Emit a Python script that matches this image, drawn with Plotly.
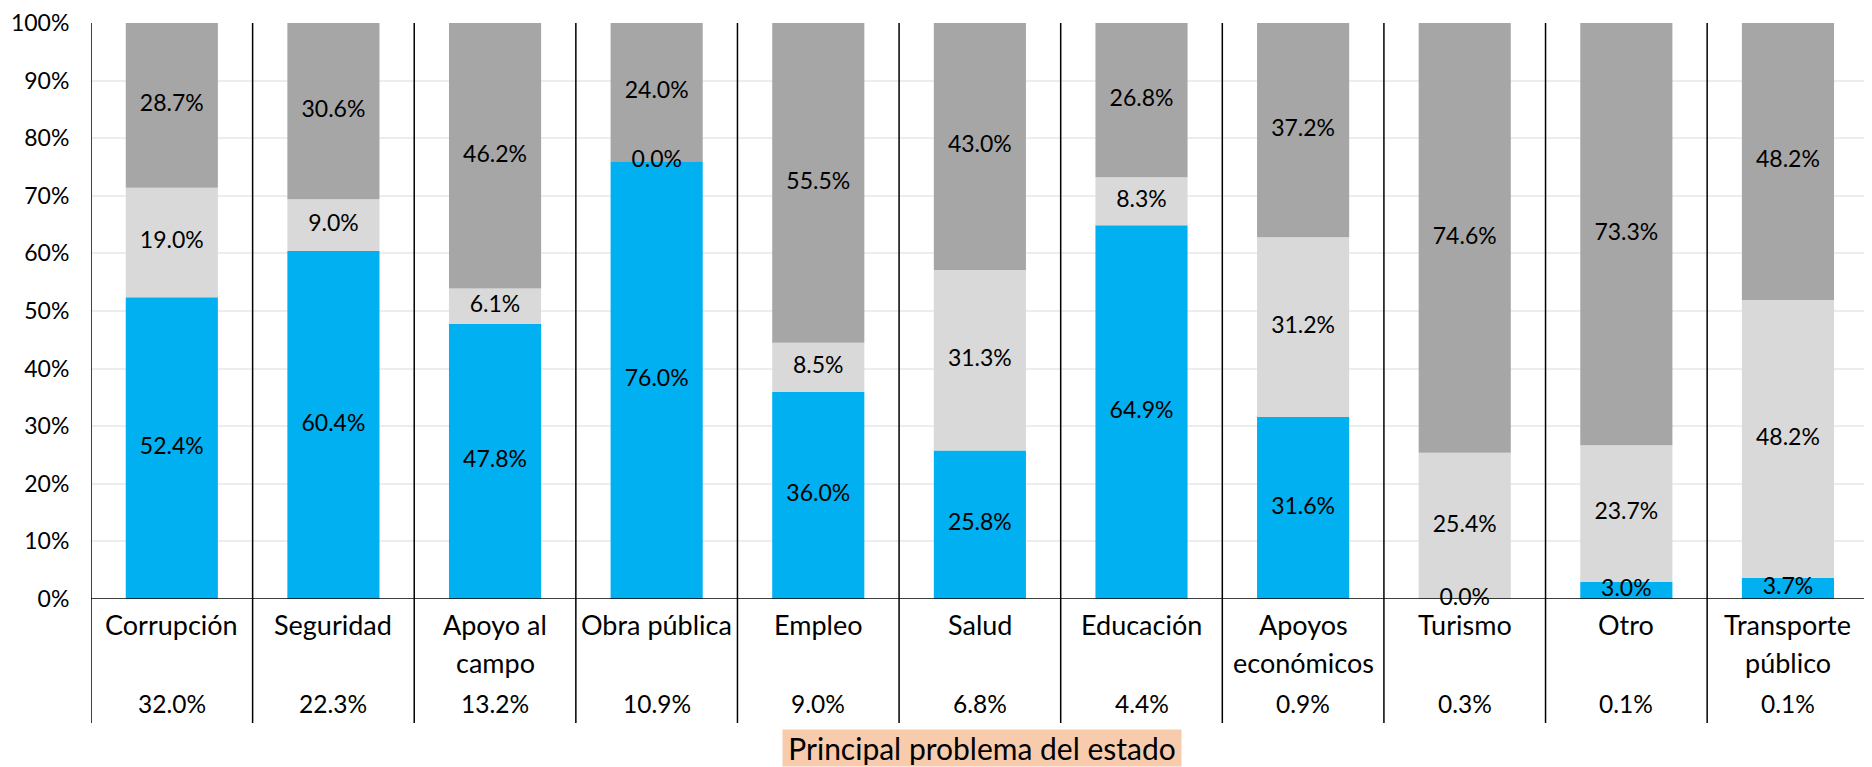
import plotly.graph_objects as go

categorias = ["Corrupción", "Seguridad", "Apoyo al<br>campo", "Obra pública", "Empleo", "Salud",
              "Educación", "Apoyos<br>económicos", "Turismo", "Otro", "Transporte<br>público"]
participacion = [32.0, 22.3, 13.2, 10.9, 9.0, 6.8, 4.4, 0.9, 0.3, 0.1, 0.1]

serie_azul = [52.4, 60.4, 47.8, 76.0, 36.0, 25.8, 64.9, 31.6, 0.0, 3.0, 3.7]
serie_gris_claro = [19.0, 9.0, 6.1, 0.0, 8.5, 31.3, 8.3, 31.2, 25.4, 23.7, 48.2]
serie_gris_oscuro = [28.7, 30.6, 46.2, 24.0, 55.5, 43.0, 26.8, 37.2, 74.6, 73.3, 48.2]

colores = ["#00B0F0", "#D9D9D9", "#A6A6A6"]
fuente = "Lato"
x = list(range(len(categorias)))
alto_plot = 576  # px, para ubicar la tabla bajo el eje

fig = go.Figure()
base = [0.0] * len(x)
for serie, color in zip([serie_azul, serie_gris_claro, serie_gris_oscuro], colores):
    fig.add_trace(go.Bar(x=x, y=serie, base=base, marker_color=color, marker_line_width=0,
                         width=0.57, showlegend=False, hoverinfo="skip"))
    # etiquetas centradas en cada segmento (incluye los 0.0%)
    mid = [b + min(v, 100 - b) / 2 for b, v in zip(base, serie)]
    fig.add_trace(go.Scatter(x=x, y=mid, mode="text", text=[f"{v:.1f}%" for v in serie],
                             textfont=dict(family=fuente, size=23, color="black"),
                             showlegend=False, hoverinfo="skip", cliponaxis=False))
    base = [b + v for b, v in zip(base, serie)]

# nombres de categoria (una anotacion por renglon) y participacion bajo el eje
for i, (cat, p) in enumerate(zip(categorias, participacion)):
    for j, renglon in enumerate(cat.split("<br>")):
        fig.add_annotation(x=i, xref="x", y=-(25 + 38 * j) / alto_plot, yref="paper", text=renglon,
                           showarrow=False, yanchor="middle",
                           font=dict(family=fuente, size=27, color="black"))
    fig.add_annotation(x=i, xref="x", y=-104 / alto_plot, yref="paper", text=f"{p:.1f}%",
                       showarrow=False, yanchor="middle",
                       font=dict(family=fuente, size=24.5, color="black"))

# lineas verticales de la tabla
for i in range(len(x) + 1):
    fig.add_shape(type="line", xref="x", yref="paper", x0=i - 0.5, x1=i - 0.5,
                  y0=-124 / alto_plot, y1=1, line=dict(color="black", width=1.5))
fig.add_shape(type="line", xref="paper", yref="y", x0=0, x1=1, y0=0, y1=0,
              line=dict(color="black", width=1.5))

fig.add_annotation(x=0.5, xref="paper", y=-130 / alto_plot, yref="paper",
                   text="Principal problema del estado", showarrow=False, yanchor="top",
                   width=396, height=34, valign="middle", bgcolor="#F8CBAD", borderpad=1,
                   font=dict(family=fuente, size=30, color="black"))

# el body de la pagina agrega 8px de margen: se compensa en el tamano y los margenes
fig.update_layout(
    width=1864, height=759,
    margin=dict(l=83, r=0, t=15, b=168),
    paper_bgcolor="white", plot_bgcolor="white",
    barmode="overlay",
    xaxis=dict(range=[-0.5, 10.52], showticklabels=False, showgrid=False, zeroline=False,
               automargin=False),
    yaxis=dict(range=[0, 100], tickvals=list(range(0, 101, 10)),
               ticktext=[f"{v}%" for v in range(0, 101, 10)],
               tickfont=dict(family=fuente, size=23, color="black"), ticklabeloverflow="allow",
               showgrid=True, gridcolor="#EDEDED", gridwidth=1.5, zeroline=False,
               ticks="outside", ticklen=16, tickcolor="rgba(0,0,0,0)", automargin=False),
)

fig.write_html("out.html")
